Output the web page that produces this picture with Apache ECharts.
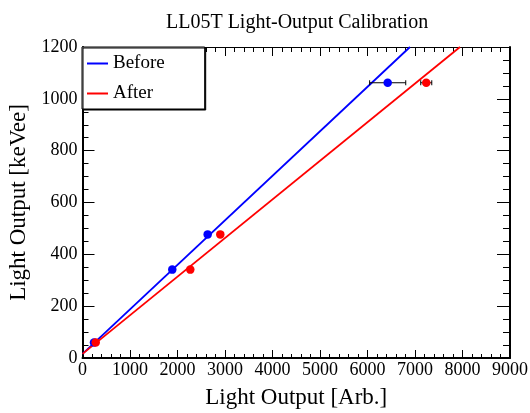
<!DOCTYPE html>
<html><head><meta charset="utf-8">
<script src="https://cdn.jsdelivr.net/npm/echarts@6/dist/echarts.min.js"></script>
<style>html,body{margin:0;padding:0;background:#fff}#c{width:530px;height:413px}</style>
</head><body><div id="c"></div>
<script>
// ---- data ----
const energies = [59.5, 341, 477, 1062];          // keVee
const beforeLO = [242, 1890, 2635, 6425];         // Arb.
const afterLO  = [278, 2269, 2901, 7237];         // Arb.
const beforeErr = [0, 0, 0, 380];
const afterErr  = [0, 0, 0, 116];
const beforeFit = [[0, 16], [6894, 1200]];
const afterFit  = [[0, 16], [7947, 1200]];
const seriesNames = ['Before', 'After'];
const seriesColors = ['#0000ff', '#ff0000'];
const xRange = [0, 9000, 1000];
const yRange = [0, 1200, 200];
const titleText = 'LL05T Light-Output Calibration';
const xTitle = 'Light Output [Arb.]';
const yTitle = 'Light Output [keVee]';

const FONT = 'Liberation Serif';
const chart = echarts.init(document.getElementById('c'), null, {renderer: 'canvas'});

function errRender(params, api) {
  const x = api.value(0), y = api.value(1), e = api.value(2);
  if (!e) return null;
  const l = api.coord([x - e, y]);
  const r = api.coord([x + e, y]);
  const st = {stroke: '#000', lineWidth: 1};
  return {type: 'group', children: [
    {type: 'line', shape: {x1: l[0], y1: l[1], x2: r[0], y2: r[1]}, style: st},
    {type: 'line', shape: {x1: l[0], y1: l[1] - 2.5, x2: l[0], y2: l[1] + 2.5}, style: st},
    {type: 'line', shape: {x1: r[0], y1: r[1] - 2.5, x2: r[0], y2: r[1] + 2.5}, style: st}
  ]};
}

const serif = size => ({fontFamily: FONT, fontSize: size, color: '#000', fontWeight: 'normal'});
const plainNum = v => '{t|' + String(v) + '}';

const axisCommon = {
  type: 'value',
  splitLine: {show: false},
  axisLine: {show: true, onZero: false, lineStyle: {color: '#000', width: 2}},
};

const option = {
  animation: false,
  backgroundColor: '#fff',
  textStyle: {fontFamily: FONT, color: '#000'},
  title: {
    text: titleText, left: 161, top: 8,
    textStyle: serif(20)
  },
  grid: {left: 82.5, right: 20, top: 47, bottom: 55, containLabel: false, outerBoundsMode: 'none'},
  legend: {
    orient: 'vertical', left: 82, top: 47,
    data: seriesNames,
    icon: 'rect', itemWidth: 21, itemHeight: 2, itemGap: 11,
    padding: [7, 40, 6, 5],
    backgroundColor: '#fff', borderColor: '#000', borderWidth: 1,
    shadowColor: '#000', shadowOffsetX: 1, shadowOffsetY: 1, shadowBlur: 0,
    formatter: name => '{t|' + name + '}',
    textStyle: Object.assign(serif(19), {rich: {t: serif(19)}})
  },
  xAxis: [
    Object.assign({}, axisCommon, {
      position: 'bottom', min: xRange[0], max: xRange[1], interval: xRange[2],
      axisTick: {inside: true, length: 8, lineStyle: {color: '#000'}},
      minorTick: {show: true, splitNumber: 5, length: 4, lineStyle: {color: '#000'}},
      axisLabel: Object.assign(serif(18), {margin: 3, formatter: plainNum, rich: {t: serif(18)}}),
      name: xTitle, nameLocation: 'middle', nameGap: 28,
      nameTextStyle: serif(23)
    }),
    Object.assign({}, axisCommon, {
      position: 'top', min: xRange[0], max: xRange[1], interval: xRange[2],
      axisLine: {show: true, onZero: false, lineStyle: {color: '#000', width: 1}},
      axisTick: {inside: true, length: 9, lineStyle: {color: '#000'}},
      minorTick: {show: true, splitNumber: 5, length: 5, lineStyle: {color: '#000'}},
      axisLabel: {show: false}
    })
  ],
  yAxis: [
    Object.assign({}, axisCommon, {
      position: 'left', min: yRange[0], max: yRange[1], interval: yRange[2],
      axisTick: {inside: true, length: 12, lineStyle: {color: '#000'}},
      minorTick: {show: true, splitNumber: 4, length: 6, lineStyle: {color: '#000'}},
      axisLabel: Object.assign(serif(18), {margin: 5, formatter: plainNum, rich: {t: serif(18)}}),
      name: yTitle, nameLocation: 'middle', nameGap: 50,
      nameTextStyle: serif(23)
    }),
    Object.assign({}, axisCommon, {
      position: 'right', min: yRange[0], max: yRange[1], interval: yRange[2],
      axisTick: {inside: true, length: 13, lineStyle: {color: '#000'}},
      minorTick: {show: true, splitNumber: 4, length: 7, lineStyle: {color: '#000'}},
      axisLabel: {show: false}
    })
  ],
  series: [
    {name: seriesNames[0], type: 'line', data: beforeFit, showSymbol: false, symbol: 'none',
     lineStyle: {color: seriesColors[0], width: 1.8}, itemStyle: {color: seriesColors[0]}, z: 2},
    {name: seriesNames[1], type: 'line', data: afterFit, showSymbol: false, symbol: 'none',
     lineStyle: {color: seriesColors[1], width: 1.8}, itemStyle: {color: seriesColors[1]}, z: 2},
    {name: 'errBefore', type: 'custom', renderItem: errRender,
     data: beforeLO.map((x, i) => [x, energies[i], beforeErr[i]]), z: 3},
    {name: 'errAfter', type: 'custom', renderItem: errRender,
     data: afterLO.map((x, i) => [x, energies[i], afterErr[i]]), z: 3},
    {name: 'ptsBefore', type: 'scatter', symbol: 'circle', symbolSize: 8.5,
     data: beforeLO.map((x, i) => [x, energies[i]]), itemStyle: {color: seriesColors[0], opacity: 1}, z: 4},
    {name: 'ptsAfter', type: 'scatter', symbol: 'circle', symbolSize: 8.5,
     data: afterLO.map((x, i) => [x, energies[i]]), itemStyle: {color: seriesColors[1], opacity: 1}, z: 5}
  ]
};
chart.setOption(option);
</script>
</body></html>
